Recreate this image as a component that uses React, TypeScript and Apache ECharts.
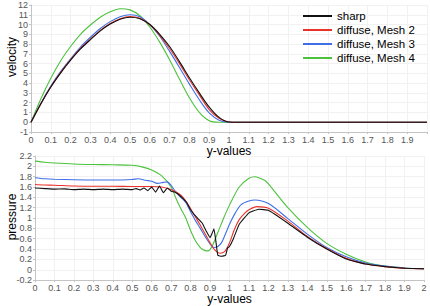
import React, { useEffect, useRef } from 'react';
import * as echarts from 'echarts';

const seriesNames = ['sharp', 'diffuse, Mesh 2', 'diffuse, Mesh 3', 'diffuse, Mesh 4'];
const seriesColors = ['#111111', '#e8322a', '#3f6fe8', '#4cc23c'];

// velocity (top chart)
const velX = [0, 0.05, 0.1, 0.15, 0.2, 0.25, 0.3, 0.35, 0.4, 0.45, 0.5, 0.55, 0.6, 0.65, 0.7, 0.75, 0.8, 0.85, 0.9, 0.95, 1.0, 1.05, 1.1, 2.0];
const velSharp = [0, 1.9, 3.6, 5.05, 6.35, 7.5, 8.45, 9.35, 10.05, 10.55, 10.75, 10.6, 10.0, 9.0, 7.75, 6.2, 4.55, 3.0, 1.55, 0.5, 0.02, 0, 0, 0];
const velMesh2 = [0, 1.9, 3.6, 5.1, 6.4, 7.55, 8.5, 9.4, 10.1, 10.6, 10.82, 10.65, 10.0, 8.9, 7.55, 6.0, 4.35, 2.8, 1.3, 0.4, 0.02, 0, 0, 0];
const velMesh3 = [0, 1.95, 3.7, 5.2, 6.5, 7.7, 8.7, 9.6, 10.3, 10.8, 11.0, 10.8, 10.0, 8.8, 7.25, 5.6, 3.9, 2.3, 0.95, 0.2, 0, 0, 0, 0];
const velMesh4 = [0, 2.4, 4.5, 6.3, 7.75, 9.0, 9.95, 10.75, 11.3, 11.62, 11.5, 10.9, 9.75, 8.2, 6.4, 4.4, 2.5, 1.0, 0.15, 0, 0, 0, 0, 0];

// pressure (bottom chart)
const presSharpX = [0, 0.05, 0.1, 0.15, 0.2, 0.25, 0.3, 0.35, 0.4, 0.45, 0.5, 0.52, 0.54, 0.56, 0.58, 0.6, 0.62, 0.64, 0.66, 0.68, 0.7, 0.72, 0.74, 0.76, 0.78, 0.8, 0.82, 0.84, 0.86, 0.88, 0.9, 0.91, 0.92, 0.93, 0.94, 0.96, 0.98, 0.99, 1.0, 1.02, 1.05, 1.1, 1.15, 1.2, 1.3, 1.4, 1.5, 1.6, 1.7, 1.8, 1.9, 2.0];
const presSharp = [1.58, 1.57, 1.56, 1.565, 1.55, 1.56, 1.55, 1.56, 1.55, 1.56, 1.55, 1.57, 1.54, 1.58, 1.53, 1.6, 1.5, 1.62, 1.49, 1.58, 1.52, 1.5, 1.45, 1.38, 1.3, 1.16, 1.06, 0.98, 0.9, 0.75, 0.62, 0.7, 0.79, 0.55, 0.28, 0.26, 0.28, 0.42, 0.45, 0.6, 0.88, 1.1, 1.17, 1.15, 0.9, 0.63, 0.4, 0.21, 0.11, 0.06, 0.03, 0.02];
const presMesh2X = [0, 0.05, 0.1, 0.2, 0.3, 0.4, 0.5, 0.6, 0.65, 0.7, 0.75, 0.775, 0.8, 0.825, 0.85, 0.875, 0.9, 0.925, 0.95, 0.975, 1.0, 1.025, 1.05, 1.08, 1.1, 1.14, 1.2, 1.3, 1.4, 1.5, 1.6, 1.7, 1.8, 1.9, 2.0];
const presMesh2 = [1.65, 1.64, 1.635, 1.62, 1.615, 1.615, 1.61, 1.61, 1.6, 1.55, 1.44, 1.33, 1.18, 1.02, 0.86, 0.69, 0.52, 0.38, 0.32, 0.35, 0.52, 0.78, 0.97, 1.1, 1.16, 1.22, 1.19, 0.94, 0.645, 0.41, 0.22, 0.11, 0.06, 0.03, 0.02];
const presMesh3X = [0, 0.05, 0.1, 0.2, 0.3, 0.4, 0.5, 0.53, 0.57, 0.6, 0.63, 0.66, 0.68, 0.7, 0.725, 0.75, 0.775, 0.8, 0.825, 0.85, 0.875, 0.9, 0.92, 0.94, 0.96, 0.98, 1.0, 1.03, 1.06, 1.1, 1.13, 1.2, 1.3, 1.4, 1.5, 1.6, 1.7, 1.8, 1.9, 2.0];
const presMesh3 = [1.78, 1.76, 1.75, 1.74, 1.735, 1.735, 1.745, 1.76, 1.73, 1.71, 1.67, 1.69, 1.7, 1.63, 1.5, 1.4, 1.3, 1.12, 0.95, 0.8, 0.64, 0.5, 0.43, 0.45, 0.53, 0.7, 0.88, 1.1, 1.26, 1.33, 1.35, 1.28, 0.99, 0.69, 0.43, 0.25, 0.13, 0.07, 0.035, 0.02];
const presMesh4X = [0, 0.05, 0.1, 0.2, 0.3, 0.4, 0.5, 0.55, 0.6, 0.65, 0.7, 0.725, 0.75, 0.775, 0.8, 0.825, 0.85, 0.875, 0.89, 0.91, 0.94, 0.97, 1.0, 1.05, 1.1, 1.13, 1.18, 1.2, 1.3, 1.4, 1.5, 1.6, 1.7, 1.8, 1.9, 2.0];
const presMesh4 = [2.1, 2.08, 2.065, 2.045, 2.035, 2.03, 2.02, 1.99, 1.93, 1.82, 1.6, 1.38, 1.18, 1.0, 0.76, 0.56, 0.43, 0.37, 0.365, 0.45, 0.72, 1.0, 1.25, 1.6, 1.77, 1.8, 1.73, 1.66, 1.2, 0.82, 0.51, 0.3, 0.15, 0.07, 0.035, 0.02];

const zip = (xs: number[], ys: number[]) => xs.map((x, i) => [x, ys[i]]);

export default function App() {
  const ref = useRef<HTMLDivElement>(null);
  useEffect(() => {
    const chart = echarts.init(ref.current!, null, { renderer: 'svg' });
    const fmt = (v: number) => String(parseFloat(v.toFixed(1)));
    const font = 'Liberation Sans';
    const labelStyle = { fontSize: 9, color: '#555', fontFamily: font, margin: 3 };
    const axisLine = { show: true, onZero: false, lineStyle: { color: '#c4c4c4', width: 1 } };
    const axisTick = { show: true, length: 2, lineStyle: { color: '#c4c4c4' } };
    const splitLine = { show: true, lineStyle: { color: '#f1f1f1', width: 1 } };

    const velData = [velSharp, velMesh2, velMesh3, velMesh4];
    const presData = [
      zip(presSharpX, presSharp),
      zip(presMesh2X, presMesh2),
      zip(presMesh3X, presMesh3),
      zip(presMesh4X, presMesh4),
    ];
    const zs = [4, 3, 2, 1];

    const series: any[] = [];
    seriesNames.forEach((name, i) => {
      series.push({
        type: 'line', name, xAxisIndex: 0, yAxisIndex: 0,
        data: zip(velX, velData[i]), symbol: 'none', showSymbol: false, smooth: 0.3,
        lineStyle: { color: seriesColors[i], width: 1.1 }, itemStyle: { color: seriesColors[i] }, z: zs[i],
      });
      series.push({
        type: 'line', name, xAxisIndex: 1, yAxisIndex: 1,
        data: presData[i], symbol: 'none', showSymbol: false, smooth: i === 0 ? 0.1 : 0.3,
        lineStyle: { color: seriesColors[i], width: 1.1 }, itemStyle: { color: seriesColors[i] }, z: zs[i],
      });
    });

    chart.setOption({
      animation: false,
      backgroundColor: '#ffffff',
      grid: [
        { left: 31, top: 5, width: 396, height: 127 },
        { left: 35, top: 156, width: 389, height: 131 },
      ],
      legend: {
        data: seriesNames.map((n) => ({ name: n, icon: 'rect' })),
        orient: 'vertical', left: 303, top: 9, padding: 0,
        itemWidth: 29, itemHeight: 2, itemGap: 0,
        textStyle: { fontSize: 11.5, lineHeight: 14, fontFamily: font, color: '#000' },
      },
      xAxis: [
        {
          type: 'value', gridIndex: 0, min: 0, max: 2, interval: 0.1,
          name: 'y-values', nameLocation: 'middle', nameGap: 10,
          nameTextStyle: { fontSize: 12, fontFamily: font, color: '#000' },
          axisLabel: { ...labelStyle, formatter: (v: number) => (v >= 2 ? '' : fmt(v)) },
          axisLine, axisTick, splitLine,
        },
        {
          type: 'value', gridIndex: 1, min: 0, max: 2, interval: 0.1,
          name: 'y-values', nameLocation: 'middle', nameGap: 9,
          nameTextStyle: { fontSize: 12, fontFamily: font, color: '#000' },
          axisLabel: { ...labelStyle, formatter: (v: number) => fmt(v) },
          axisLine, axisTick, splitLine,
        },
      ],
      yAxis: [
        {
          type: 'value', gridIndex: 0, min: -1, max: 12, interval: 1,
          axisLabel: { ...labelStyle, formatter: (v: number) => fmt(v) },
          axisLine, axisTick, splitLine,
        },
        {
          type: 'value', gridIndex: 1, min: -0.2, max: 2.2, interval: 0.2,
          axisLabel: { ...labelStyle, formatter: (v: number) => fmt(v) },
          axisLine, axisTick, splitLine,
        },
      ],
      graphic: [
        {
          type: 'text', x: 12, y: 57, rotation: Math.PI / 2,
          style: { text: 'velocity', font: `12px "${font}"`, fill: '#000', align: 'center', verticalAlign: 'middle' },
        },
        {
          type: 'text', x: 12, y: 217, rotation: Math.PI / 2,
          style: { text: 'pressure', font: `12px "${font}"`, fill: '#000', align: 'center', verticalAlign: 'middle' },
        },
      ],
      series,
    });
    return () => chart.dispose();
  }, []);
  return <div ref={ref} style={{ position: 'fixed', left: 0, top: 0, width: 430, height: 306 }} />;
}
